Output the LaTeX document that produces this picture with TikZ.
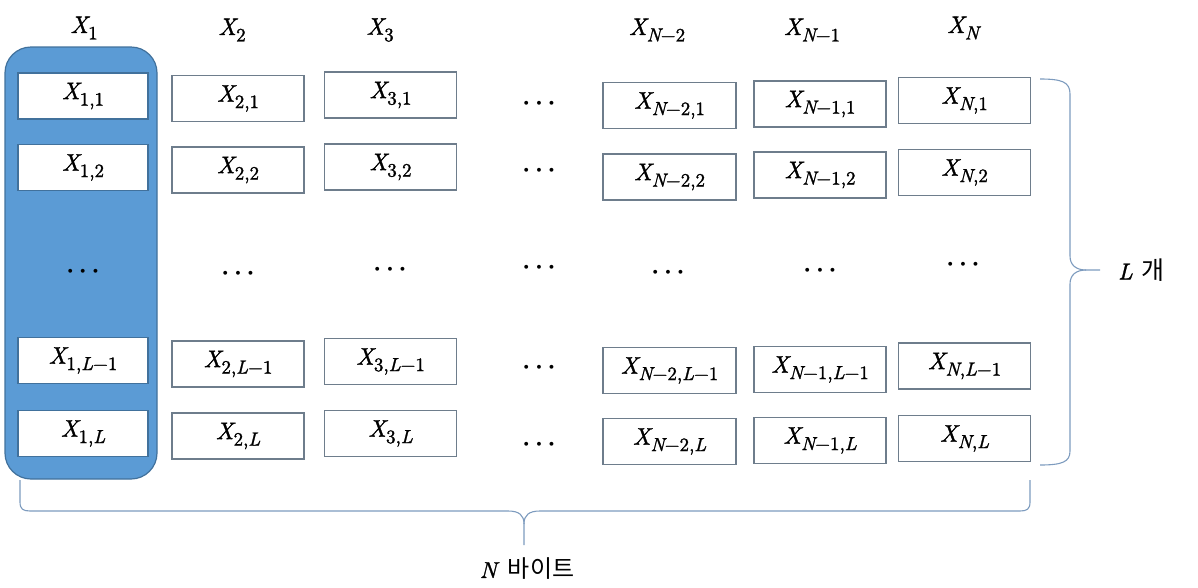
\documentclass[tikz,border=0pt]{standalone}
\usepackage{fontspec}
\newfontfamily\krfont{Noto Sans CJK KR}
\newfontface\xit{lmroman10-italic.otf}[FakeBold=1.3]
\newfontface\xrm{lmroman10-regular.otf}[FakeBold=1.3]
\newcommand\I[1]{{\xit #1}}
\newcommand\XX[1]{{\xit X}\raisebox{-0.27em}{\fontsize{19}{21}\selectfont\xrm #1}}
\definecolor{boxline}{RGB}{110,125,140}
\definecolor{braceline}{RGB}{125,155,190}
\definecolor{colfill}{RGB}{91,155,213}
\definecolor{colborder}{RGB}{65,113,156}
\tikzset{
  cell/.style={draw=boxline, line width=1.1pt, fill=white, minimum width=132pt,
    minimum height=46pt, inner sep=0pt, font=\fontsize{24}{28}\selectfont},
  firstcell/.style={cell, draw=colborder, minimum width=130pt},
  head/.style={inner sep=0pt, font=\fontsize{24}{28}\selectfont},
  dots/.style={inner sep=0pt, font=\fontsize{27}{32}\selectfont\boldmath},
  bracestyle/.style={draw=braceline, line width=1.1pt},
  lab/.style={inner sep=0pt, font=\fontsize{23}{27}\selectfont}
}
\begin{document}
\begin{tikzpicture}[x=1pt,y=-1pt]
\useasboundingbox (0,0) rectangle (1198,587);
% highlighted column
\node[draw=colborder, fill=colfill, line width=1.2pt, rounded corners=26pt,
  minimum width=152pt, minimum height=432pt, inner sep=0pt] (col1) at (81,263) {};
% headers
\node[head] (h1) at (84,28) {\XX{1}};
\node[head] (h2) at (232,30) {\XX{2}};
\node[head] (h3) at (380,30) {\XX{3}};
\node[head] (h4) at (657,30) {\XX{\I{N}−2}};
\node[head] (h5) at (812,30) {\XX{\I{N}−1}};
\node[head] (h6) at (963,28) {\XX{\I{N}}};
% column 1
\node[firstcell] (c11) at (83,96) {\XX{1,1}};
\node[firstcell] (c12) at (83,167.5) {\XX{1,2}};
\node[firstcell] (c1a) at (83,360.5) {\XX{1,\I{L}−1}};
\node[firstcell] (c1b) at (83,433.5) {\XX{1,\I{L}}};
% column 2
\node[cell] (c21) at (238,98.5) {\XX{2,1}};
\node[cell] (c22) at (238,170) {\XX{2,2}};
\node[cell] (c2a) at (238,364) {\XX{2,\I{L}−1}};
\node[cell] (c2b) at (238,436) {\XX{2,\I{L}}};
% column 3
\node[cell] (c31) at (390.5,95) {\XX{3,1}};
\node[cell] (c32) at (390.5,167) {\XX{3,2}};
\node[cell] (c3a) at (390.5,361.5) {\XX{3,\I{L}−1}};
\node[cell] (c3b) at (390.5,433.5) {\XX{3,\I{L}}};
% column N-2
\node[cell, minimum width=133pt] (c41) at (669.5,105.5) {\XX{\I{N}−2,1}};
\node[cell, minimum width=133pt] (c42) at (669.5,177) {\XX{\I{N}−2,2}};
\node[cell, minimum width=133pt] (c4a) at (669.5,370.5) {\XX{\I{N}−2,\I{L}−1}};
\node[cell, minimum width=133pt] (c4b) at (669.5,441.5) {\XX{\I{N}−2,\I{L}}};
% column N-1
\node[cell] (c51) at (820,104) {\XX{\I{N}−1,1}};
\node[cell] (c52) at (820,175) {\XX{\I{N}−1,2}};
\node[cell] (c5a) at (820,369.5) {\XX{\I{N}−1,\I{L}−1}};
\node[cell] (c5b) at (820,440.5) {\XX{\I{N}−1,\I{L}}};
% column N
\node[cell] (c61) at (964.5,100.5) {\XX{\I{N},1}};
\node[cell] (c62) at (964.5,172.5) {\XX{\I{N},2}};
\node[cell] (c6a) at (964.5,366) {\XX{\I{N},\I{L}−1}};
\node[cell] (c6b) at (964.5,438.5) {\XX{\I{N},\I{L}}};
% dots
\node[dots] (d1) at (83,272) {$\cdots$};
\node[dots] (d2) at (238,274) {$\cdots$};
\node[dots] (d3) at (390,270) {$\cdots$};
\node[dots] (d4) at (668,273) {$\cdots$};
\node[dots] (d5) at (820,271) {$\cdots$};
\node[dots] (d6) at (963,265) {$\cdots$};
\node[dots] (g1) at (539,104) {$\cdots$};
\node[dots] (g2) at (539,171) {$\cdots$};
\node[dots] (g3) at (539,268) {$\cdots$};
\node[dots] (g4) at (539,368) {$\cdots$};
\node[dots] (g5) at (539,445) {$\cdots$};
% right brace
\draw[bracestyle] (1040,79) .. controls (1062,79) and (1070,82) .. (1070,94)
  -- (1070,256) .. controls (1070,265) and (1076,270) .. (1086,270) -- (1100,270);
\draw[bracestyle] (1086,270) .. controls (1076,270) and (1070,275) .. (1070,284)
  -- (1070,451) .. controls (1070,462) and (1062,465) .. (1040,465);
\node[lab, anchor=west] (lcount) at (1118,270) {\I{L}\hspace{9pt}{\krfont\fontsize{25}{29}\selectfont 개}};
% bottom brace
\draw[bracestyle] (20,480) -- (20,502) .. controls (20,509) and (23,511) .. (30,511)
  -- (508,511) .. controls (519,511) and (524,515) .. (524,524) -- (524,545);
\draw[bracestyle] (524,524) .. controls (524,515) and (529,511) .. (540,511)
  -- (1020,511) .. controls (1027,511) and (1030,509) .. (1030,502) -- (1030,480);
\node[lab] (nbytes) at (527,569) {\I{N}\hspace{11pt}{\krfont\fontsize{24}{28}\selectfont 바이트}};
\end{tikzpicture}
\end{document}
